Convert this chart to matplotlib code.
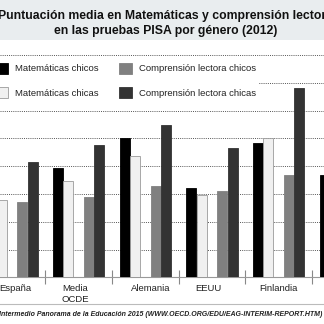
import matplotlib
matplotlib.use("Agg")
import matplotlib.pyplot as plt
from matplotlib.patches import Rectangle, Patch
from matplotlib.transforms import ScaledTranslation
import numpy as np

plt.rcParams['font.family'] = ['Liberation Sans', 'DejaVu Sans']

# --- data (PISA 2012 scores) ---
countries = ['España', 'Media\nOCDE', 'Alemania', 'EEUU', 'Finlandia', 'Italia']
math_boys = [492, 499, 520, 484, 517, 494]
math_girls = [476, 489, 507, 479, 520, 476]
read_boys = [474, 478, 486, 482, 494, 471]
read_girls = [503, 515, 530, 513, 556, 510]
series_names = ['Matemáticas chicos', 'Matemáticas chicas',
                'Comprensión lectora chicos', 'Comprensión lectora chicas']
y_ticks = [440, 460, 480, 500, 520, 540, 560, 580]

W, H = 324, 324
fig = plt.figure(figsize=(W / 100, H / 100), dpi=100)

def fy(px):
    # pixel row from top -> figure fraction
    return 1 - px / H

# title band
fig.patches.append(Rectangle((0, fy(40)), 1, 40 / H, transform=fig.transFigure,
                             facecolor='#e9edef', edgecolor='none', zorder=0))
fig.text(165 / W, fy(15.5), 'Puntuación media en Matemáticas y comprensión lectora',
         ha='center', va='center', fontsize=8.8, fontweight='bold', color='#111111')
fig.text(166 / W, fy(31), 'en las pruebas PISA por género (2012)',
         ha='center', va='center', fontsize=8.8, fontweight='bold', color='#111111')

# plot area
ax = fig.add_axes([0, fy(277.3), 1, (277.3 - 40) / H])
x = np.arange(len(countries))
colors = ['#000000', '#f0f0f0', '#808080', '#333333']
edges = ['#000000', '#9a9a9a', '#808080', '#333333']
offsets = [-0.31, -0.155, 0.155, 0.31]
for vals, off, c, ec, name in zip([math_boys, math_girls, read_boys, read_girls],
                                   offsets, colors, edges, series_names):
    ax.bar(x + off, vals, width=0.15, color=c, edgecolor=ec, linewidth=0.6,
           label=name, zorder=3)

ax.set_yticks(y_ticks)
ax.yaxis.grid(True, color='#555555', linestyle=(0, (1, 1.2)), linewidth=0.7, zorder=0)
ax.set_axisbelow(True)
ax.tick_params(axis='y', left=False, labelleft=False)

ax.set_xticks(x)
ax.set_xticklabels(countries, fontsize=6.8, color='#222222')
ax.set_xticks(np.arange(len(countries)) + 0.5, minor=True)
ax.tick_params(axis='x', which='major', length=0, pad=5)
ax.tick_params(axis='x', which='minor', length=10, direction='inout', color='#888888', width=0.8)
# small nudges so the labels sit as in the original layout (pixels)
label_nudge = [3.5, -3, 5, -3.5, 0, 0]
for lbl, dx in zip(ax.get_xticklabels(), label_nudge):
    lbl.set_multialignment('left')
    lbl.set_transform(lbl.get_transform() + ScaledTranslation(dx / 100, 0, fig.dpi_scale_trans))

# limits last, set_xticks can widen the view
ax.set_ylim(420, 420 + (277.3 - 40) / 1.389)
ax.set_xlim(-0.18, 4.68)

for s in ['top', 'left', 'right']:
    ax.spines[s].set_visible(False)
ax.spines['bottom'].set_color('#999999')
ax.spines['bottom'].set_linewidth(0.8)

# legend
handles = [Patch(facecolor=c, edgecolor=ec, linewidth=0.6) for c, ec in zip(colors, edges)]
leg = fig.legend(handles, series_names, loc='upper left', ncol=2,
                 bbox_to_anchor=(-8 / W, fy(60)), fontsize=6.8, frameon=True,
                 fancybox=False, handlelength=1.4, handleheight=1.4,
                 handletextpad=0.75, labelspacing=1.45, columnspacing=2.1,
                 borderpad=0.3, borderaxespad=0)
leg.get_frame().set_facecolor('white')
leg.get_frame().set_edgecolor('none')
leg.get_frame().set_alpha(1)
for t in leg.get_texts():
    t.set_color('#222222')

# footer
fig.lines.append(plt.Line2D([0, 1], [fy(304), fy(304)], transform=fig.transFigure,
                            color='#bbbbbb', linewidth=0.8))
fig.text(-1 / W, fy(315), 'Intermedio Panorama de la Educación 2015 (WWW.OECD.ORG/EDU/EAG-INTERIM-REPORT.HTM)',
         ha='left', va='center', fontsize=5.08, fontweight='bold', fontstyle='italic',
         color='#222222')

fig.savefig('out.png', dpi=100)
